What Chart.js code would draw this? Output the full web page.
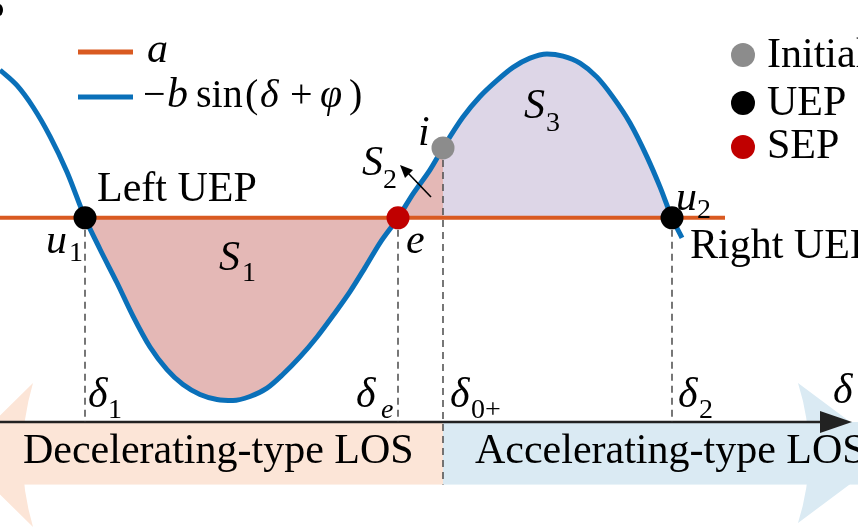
<!DOCTYPE html>
<html>
<head>
<meta charset="utf-8">
<script src="https://cdn.jsdelivr.net/npm/chart.js@4.4.1/dist/chart.umd.min.js"></script>
<style>
html, body { margin: 0; padding: 0; background: #fff; overflow: hidden; }
</style>
</head>
<body>
<canvas id="c" width="858" height="528"></canvas>
<script>
// rotor angle (arbitrary units) and -b sin(delta + phi)
var delta = [0, 17, 33, 50, 67, 85, 100, 117, 133, 150, 167, 183, 200, 217, 233, 250, 267, 283, 300, 317,
             333, 350, 365, 380, 398, 413, 430, 443, 463, 480, 497, 513, 530, 547, 563, 580, 597, 613, 630, 647,
             660, 672, 682];
var power = [0.897, 0.808, 0.684, 0.515, 0.310, 0.046, -0.135, -0.328, -0.520, -0.698, -0.828, -0.914, -0.971, -1.000, -1.006, -0.983, -0.935, -0.855, -0.755, -0.640,
             -0.517, -0.379, -0.241, -0.098, 0.046, 0.184, 0.322, 0.448, 0.626, 0.744, 0.837, 0.912, 0.965, 0.989, 0.977, 0.937, 0.856, 0.741, 0.592, 0.397,
             0.224, 0.046, -0.069];
var aLevel = 0.046;
var lineEnd = 725;

// equilibrium points and the initial point
var uepDelta = [85, 672];
var sepDelta = [398];
var initDelta = 443;
var initPower = 0.448;

var axisLevel = -1.13;
var bandBottom = -1.49;

function pts(lo, hi) {
  var out = [];
  for (var k = 0; k < delta.length; k++) {
    if (delta[k] >= lo && delta[k] <= hi) out.push({x: delta[k], y: power[k]});
  }
  return out;
}

function dashed(x, yTop, yBot) {
  return {
    data: [{x: x, y: yTop}, {x: x, y: yBot}],
    borderColor: '#555555', borderWidth: 1.6, borderDash: [7, 5],
    pointRadius: 0, fill: false, order: 4
  };
}

var serif = '"Liberation Serif", "Times New Roman", serif';
function txt(ctx, s, x, y, size, italic) {
  ctx.font = (italic ? 'italic ' : '') + size + 'px ' + serif;
  ctx.fillText(s, x, y);
}

var backdrop = {
  id: 'backdrop',
  beforeDatasetsDraw: function (chart) {
    var ctx = chart.ctx, xs = chart.scales.x, ys = chart.scales.y;
    var yTop = ys.getPixelForValue(axisLevel), yBot = ys.getPixelForValue(bandBottom);
    var xSplit = xs.getPixelForValue(initDelta);
    ctx.save();
    // decelerating band + left arrowhead
    ctx.fillStyle = '#fce5d7';
    ctx.fillRect(0, yTop, xSplit, yBot - yTop);
    ctx.beginPath();
    ctx.moveTo(33, 383); ctx.lineTo(-40, 455); ctx.lineTo(33, 527);
    ctx.quadraticCurveTo(12, 455, 33, 383);
    ctx.fill();
    // accelerating band + right arrowhead
    ctx.fillStyle = '#daeaf3';
    ctx.fillRect(xSplit, yTop, 858 - xSplit, yBot - yTop);
    ctx.beginPath();
    ctx.moveTo(798, 383); ctx.lineTo(892, 453); ctx.lineTo(798, 523);
    ctx.quadraticCurveTo(820, 453, 798, 383);
    ctx.fill();
    // delta axis
    ctx.strokeStyle = '#222'; ctx.lineWidth = 2.5;
    ctx.beginPath(); ctx.moveTo(0, yTop); ctx.lineTo(826, yTop); ctx.stroke();
    ctx.fillStyle = '#222';
    ctx.beginPath(); ctx.moveTo(852, yTop); ctx.lineTo(820, yTop - 11); ctx.lineTo(820, yTop + 11); ctx.closePath(); ctx.fill();
    ctx.restore();
  },
  afterDatasetsDraw: function (chart) {
    var ctx = chart.ctx;
    ctx.save();
    ctx.fillStyle = '#000';
    ctx.textBaseline = 'alphabetic';
    // cut-off glyph in the top-left corner
    ctx.beginPath(); ctx.ellipse(-1, 10, 4, 6, 0, 0, Math.PI * 2); ctx.fill();
    // legend, left
    ctx.lineWidth = 5; ctx.lineCap = 'butt';
    ctx.strokeStyle = '#d95a21';
    ctx.beginPath(); ctx.moveTo(78, 52); ctx.lineTo(133, 52); ctx.stroke();
    ctx.strokeStyle = '#0a70b9';
    ctx.beginPath(); ctx.moveTo(78, 97); ctx.lineTo(133, 97); ctx.stroke();
    txt(ctx, 'a', 147, 62, 42, true);
    txt(ctx, '\u2212', 143, 107, 40, false);
    txt(ctx, 'b', 167, 107, 42, true);
    txt(ctx, 'sin', 196, 107, 40, false);
    txt(ctx, '(', 245, 107, 40, false);
    txt(ctx, '\u03b4', 260, 107, 40, true);
    txt(ctx, '+', 290, 107, 40, false);
    txt(ctx, '\u03c6', 320, 107, 40, true);
    txt(ctx, ')', 349, 107, 40, false);
    // legend, right
    var dots = [['#8c8c8c', 55, 'Initial', 67], ['#000000', 103, 'UEP', 115], ['#c00000', 147, 'SEP', 158]];
    dots.forEach(function (d) {
      ctx.fillStyle = d[0];
      ctx.beginPath(); ctx.arc(743, d[1], 12, 0, Math.PI * 2); ctx.fill();
      ctx.fillStyle = '#000';
      txt(ctx, d[2], 767, d[3], 42, false);
    });
    // point labels
    txt(ctx, 'Left UEP', 97, 201, 42, false);
    txt(ctx, 'u', 46, 253, 42, true); txt(ctx, '1', 69, 261, 28, false);
    txt(ctx, 'e', 406, 253, 42, true);
    txt(ctx, 'S', 219, 270, 42, true); txt(ctx, '1', 242, 281, 28, false);
    txt(ctx, 'S', 362, 175, 42, true); txt(ctx, '2', 383, 188, 28, false);
    txt(ctx, 'i', 418, 145, 42, true);
    txt(ctx, 'S', 524, 118, 42, true); txt(ctx, '3', 546, 131, 28, false);
    txt(ctx, 'u', 676, 210, 42, true); txt(ctx, '2', 697, 218, 28, false);
    txt(ctx, 'Right UEP', 690, 258, 42, false);
    // S2 pointer
    ctx.strokeStyle = '#000'; ctx.lineWidth = 1.6;
    ctx.beginPath(); ctx.moveTo(431, 197); ctx.lineTo(408, 173); ctx.stroke();
    ctx.beginPath(); ctx.moveTo(400, 165); ctx.lineTo(413, 170); ctx.lineTo(405, 178); ctx.closePath(); ctx.fill();
    // angle ticks
    txt(ctx, '\u03b4', 88, 407, 42, true); txt(ctx, '1', 108, 418, 28, false);
    txt(ctx, '\u03b4', 356, 407, 42, true); txt(ctx, 'e', 381, 418, 28, true);
    txt(ctx, '\u03b4', 450, 407, 42, true); txt(ctx, '0+', 471, 418, 28, false);
    txt(ctx, '\u03b4', 678, 407, 42, true); txt(ctx, '2', 699, 418, 28, false);
    txt(ctx, '\u03b4', 833, 403, 42, true);
    // band captions
    txt(ctx, 'Decelerating-type LOS', 23, 463, 42, false);
    txt(ctx, 'Accelerating-type LOS', 475, 463, 42, false);
    ctx.restore();
  }
};

new Chart(document.getElementById('c'), {
  type: 'line',
  data: {
    datasets: [
      {
        label: '-b sin(delta + phi)',
        data: delta.map(function (d, k) { return {x: d, y: power[k]}; }),
        borderColor: '#0a70b9', borderWidth: 5, pointRadius: 0,
        cubicInterpolationMode: 'monotone', fill: false, order: 2
      },
      {
        label: 'a',
        data: [{x: 0, y: aLevel}, {x: lineEnd, y: aLevel}],
        borderColor: '#d95a21', borderWidth: 4, pointRadius: 0, fill: false, order: 3
      },
      {
        label: 'S1 S2',
        data: pts(uepDelta[0], initDelta),
        borderWidth: 0, borderColor: 'rgba(0,0,0,0)', pointRadius: 0,
        cubicInterpolationMode: 'monotone',
        fill: {value: aLevel}, backgroundColor: '#e4b8b6', order: 6
      },
      {
        label: 'S3',
        data: pts(initDelta, uepDelta[1]),
        borderWidth: 0, borderColor: 'rgba(0,0,0,0)', pointRadius: 0,
        cubicInterpolationMode: 'monotone',
        fill: {value: aLevel}, backgroundColor: '#ddd6e7', order: 6
      },
      dashed(uepDelta[0], aLevel, axisLevel),
      dashed(sepDelta[0], aLevel, axisLevel),
      dashed(uepDelta[1], aLevel, axisLevel),
      dashed(initDelta, initPower, bandBottom),
      {
        label: 'UEP',
        data: uepDelta.map(function (d) { return {x: d, y: aLevel}; }),
        showLine: false, pointRadius: 11.5, pointBackgroundColor: '#000', pointBorderWidth: 0, order: 1
      },
      {
        label: 'SEP',
        data: sepDelta.map(function (d) { return {x: d, y: aLevel}; }),
        showLine: false, pointRadius: 11.5, pointBackgroundColor: '#c00000', pointBorderWidth: 0, order: 1
      },
      {
        label: 'Initial',
        data: [{x: initDelta, y: initPower}],
        showLine: false, pointRadius: 11.5, pointBackgroundColor: '#8c8c8c', pointBorderWidth: 0, order: 1
      }
    ]
  },
  options: {
    responsive: false,
    animation: false,
    events: [],
    layout: { padding: 0, autoPadding: false },
    plugins: { legend: { display: false }, tooltip: { enabled: false } },
    scales: {
      x: { type: 'linear', min: 0, max: 858, display: false },
      y: { type: 'linear', min: -1.74, max: 1.30, display: false }
    }
  },
  plugins: [backdrop]
});
</script>
</body>
</html>
